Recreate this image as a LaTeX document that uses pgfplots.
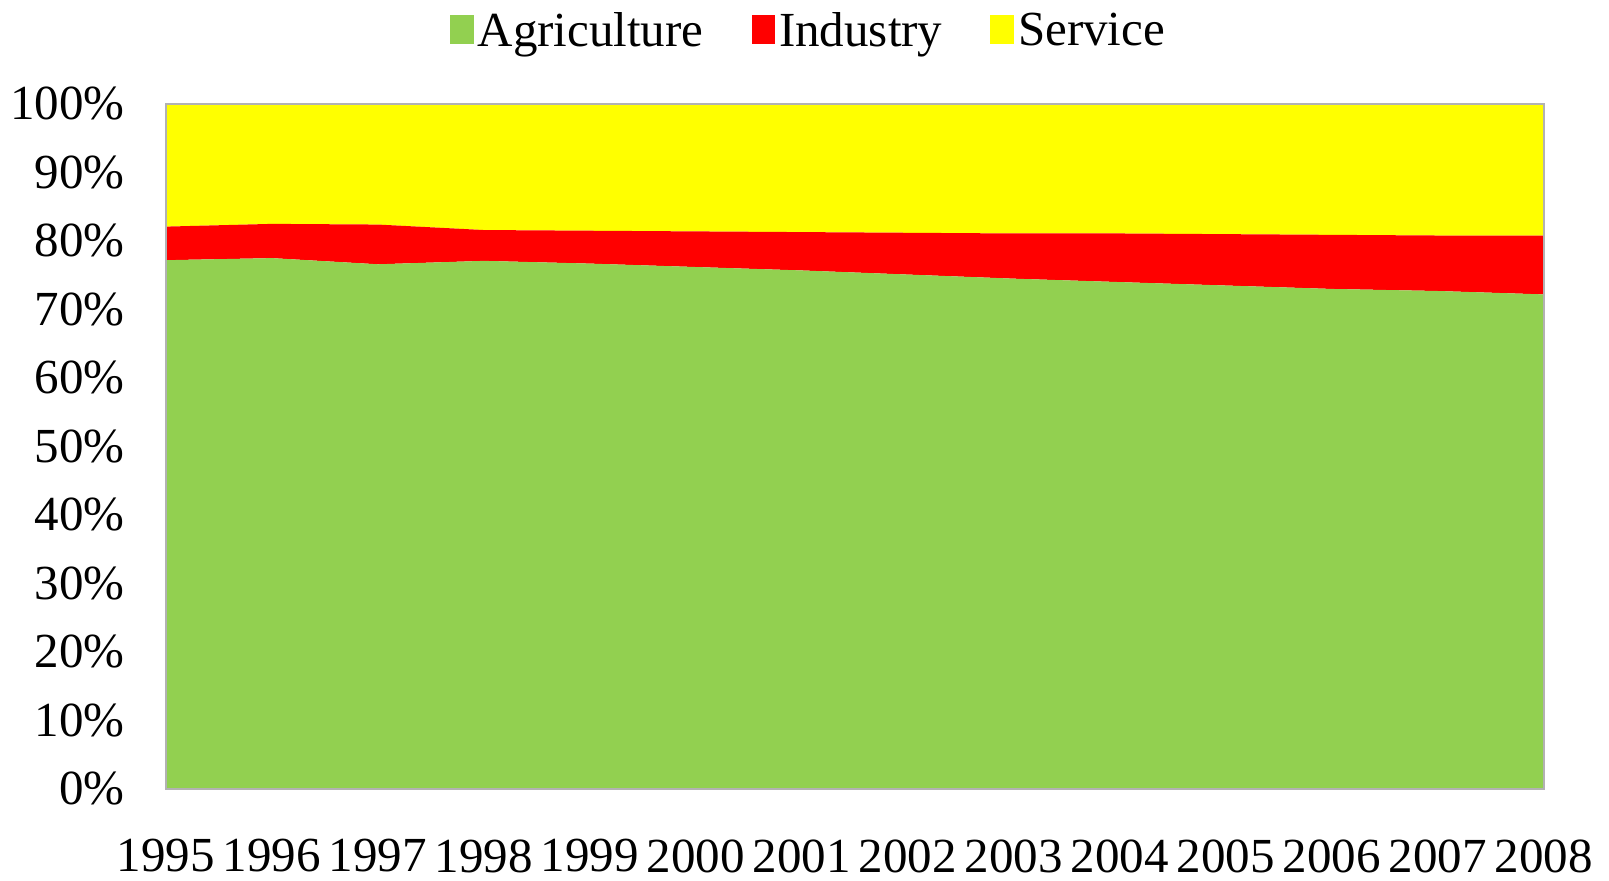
\documentclass[border=0pt]{standalone}
\usepackage{fontspec}
\setmainfont{Liberation Serif}
\usepackage{pgfplots}
\pgfplotsset{compat=1.18}
\definecolor{agri}{HTML}{92D050}
\definecolor{ind}{HTML}{FF0000}
\definecolor{serv}{HTML}{FFFF00}
\begin{document}
\begin{tikzpicture}
\path[use as bounding box] (-83pt,-45.5pt) rectangle (721.5pt,394.5pt);
\begin{axis}[
  at={(0pt,0pt)}, anchor=south west,
  scale only axis, width=689pt, height=342.5pt,
  xmin=1995, xmax=2008, ymin=0, ymax=100,
  stack plots=y, area style,
  axis on top,
  axis line style={draw=gray!60, line width=0.8pt},
  major tick length=0pt,
  xtick={1995,...,2008},
  xticklabels={1995,1996,1997,1998,1999,2000,2001,2002,2003,2004,2005,2006,2007,2008},
  ytick={0,10,...,100},
  yticklabels={0\%,10\%,20\%,30\%,40\%,50\%,60\%,70\%,80\%,90\%,100\%},
  every tick label/.append style={font=\fontsize{24.5}{29}\selectfont},
  yticklabel style={anchor=east, inner sep=0pt, xshift=-20.5pt},
  xticklabel style={anchor=north, inner sep=0pt, yshift=-25pt},
  legend columns=3,
  legend style={at={(0.467,1.1066)}, anchor=center, draw=none, fill=none,
    font=\fontsize{24.5}{29}\selectfont,
    /tikz/every even column/.append style={column sep=22pt}},
  legend image code/.code={\fill[#1] (0pt,-6.5pt) rectangle (11.8pt,7.9pt);},
]
\addplot[fill=agri, draw=none] coordinates {
 (1995,77.2) (1996,77.5) (1997,76.6) (1998,77.1) (1999,76.7) (2000,76.2) (2001,75.7)
 (2002,75.1) (2003,74.5) (2004,74.0) (2005,73.5) (2006,73.0) (2007,72.7) (2008,72.2)} \closedcycle;
\addlegendentry{Agriculture}
\addplot[fill=ind, draw=none] coordinates {
 (1995,4.9) (1996,5.0) (1997,5.8) (1998,4.5) (1999,4.8) (2000,5.2) (2001,5.6)
 (2002,6.1) (2003,6.6) (2004,7.1) (2005,7.5) (2006,7.9) (2007,8.1) (2008,8.6)} \closedcycle;
\addlegendentry{Industry}
\addplot[fill=serv, draw=none] coordinates {
 (1995,17.9) (1996,17.5) (1997,17.6) (1998,18.4) (1999,18.5) (2000,18.6) (2001,18.7)
 (2002,18.8) (2003,18.9) (2004,18.9) (2005,19.0) (2006,19.1) (2007,19.2) (2008,19.2)} \closedcycle;
\addlegendentry{Service}
\end{axis}
\end{tikzpicture}
\end{document}
